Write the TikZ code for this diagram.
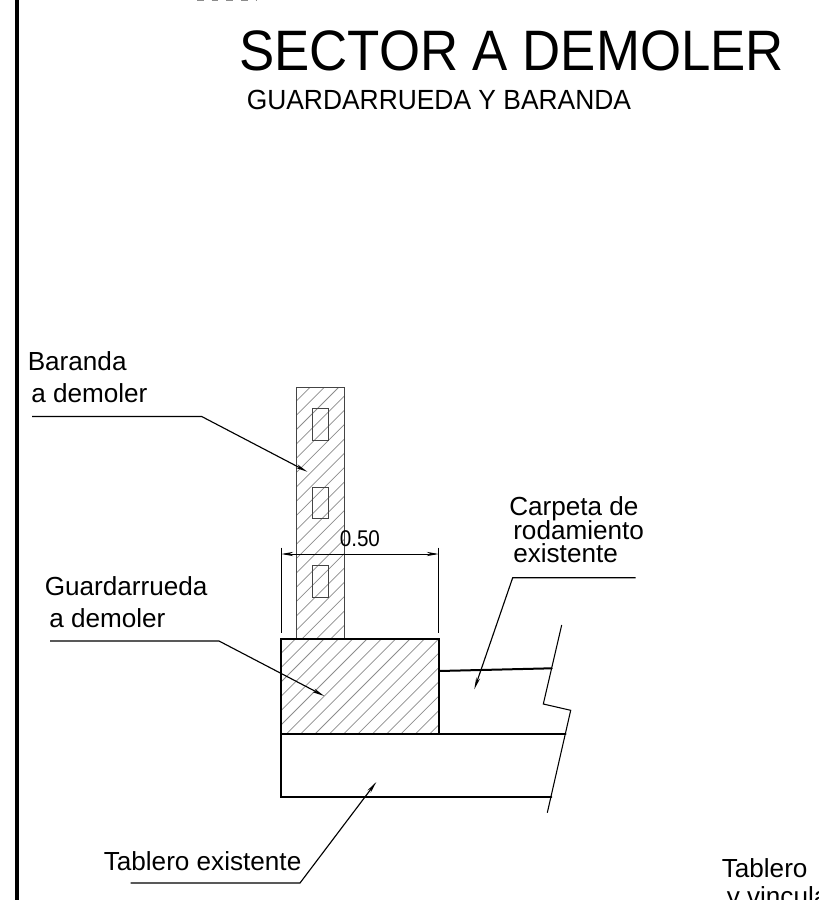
\documentclass[tikz,border=0pt]{standalone}
\usepackage{fontspec}
\usepackage{graphicx}
\setmainfont{Liberation Sans}
\usetikzlibrary{arrows.meta, calc}
\definecolor{hatchgray}{HTML}{8C8C8C}
\definecolor{railgray}{HTML}{444444}
\tikzset{
  lbl/.style={anchor=base west, inner sep=0pt, font=\fontsize{19.6}{22}\selectfont},
  dimlbl/.style={anchor=base west, inner sep=0pt, font=\fontsize{15.5}{18}\selectfont},
  hatchline/.style={hatchgray, line width=0.55pt},
  solid edge/.style={black, line width=1.5pt, line cap=round},
  thin edge/.style={black, line width=0.8pt},
  window edge/.style={railgray, line width=0.7pt},
  leader/.style={black, line width=0.85pt, -{Stealth[length=9pt, width=3pt]}},
  dimline/.style={black, line width=0.7pt, {Stealth[length=9pt, width=3.2pt]}-{Stealth[length=9pt, width=3.2pt]}}
}
\begin{document}
\begin{tikzpicture}[x=0.75pt, y=-0.75pt]
  \useasboundingbox (0,0) rectangle (818,900);
  \clip (0,0) rectangle (818,900);

  % frame
  \fill[black] (15,0) rectangle (19,900);
  \draw[hatchgray, line width=0.8pt, dash pattern=on 5pt off 6pt] (197,0.3) -- (256,0.3);

  % titles
  \node[lbl, font=\fontsize{39.6}{44}\selectfont] (title) at (239,70.5) {\scalebox{1}[1.08]{SECTOR A DEMOLER}};
  \node[lbl, font=\fontsize{19.8}{22}\selectfont] (subtitle) at (246.5,109.5) {\scalebox{1}[1.05]{GUARDARRUEDA Y BARANDA}};

  % baranda
  \begin{scope}
    \clip (296.7,387.3) rectangle (344.3,638.7);
    \foreach \k in {0,...,30} {
      \draw[hatchline] ({640+\k*14.33-800},800) -- ++(600,-600);
    }
  \end{scope}
  \draw[railgray, line width=0.8pt] (296.7,638.7) |- (344.3,387.3) -- (344.3,638.7);
  \draw[window edge] (312.7,408.3) rectangle (328.7,440);
  \draw[window edge] (312.7,487) rectangle (328.7,518.7);
  \draw[window edge] (312.7,565.7) rectangle (328.7,597.7);

  % guardarrueda
  \begin{scope}
    \clip (281.3,639.3) rectangle (439,734);
    \foreach \k in {0,...,22} {
      \draw[hatchline] ({920+\k*14.33-800},800) -- ++(600,-600);
    }
  \end{scope}
  \draw[solid edge] (281.3,639.3) rectangle (439,734);

  % tablero y carpeta
  \draw[solid edge] (439,734) -- (565.7,734);
  \draw[solid edge] (281.3,734) |- (551.3,797);
  \draw[solid edge] (439,671) -- (551.7,668.3);
  \draw[thin edge] (561.7,625) -- (543.3,704) -- (570.7,710.3) -- (547.3,812.7);

  % cota
  \coordinate (dimA) at (281.3,554);
  \coordinate (dimB) at (438.7,554);
  \draw[thin edge] (281.3,547.7) -- (281.3,633);
  \draw[thin edge] (438.7,547.7) -- (438.7,633);
  \draw[dimline] (dimA) -- (dimB);
  \node[dimlbl] (dimval) at (339.5,546) {\scalebox{1}[1.1]{0.50}};

  % textos
  \node[lbl] (baranda1) at (27.5,370) {Baranda};
  \node[lbl] (baranda2) at (31,402.5) {a demoler};
  \node[lbl] (guarda1) at (44.5,595) {Guardarrueda};
  \node[lbl] (guarda2) at (49,627.5) {a demoler};
  \node[lbl] (carpeta1) at (509,515) {Carpeta de};
  \node[lbl] (carpeta2) at (513,539.5) {rodamiento};
  \node[lbl] (carpeta3) at (513,562.5) {existente};
  \node[lbl] (tablero) at (103.5,870) {Tablero existente};
  \node[lbl] (tablero2) at (721.5,877.5) {Tablero};
  \node[lbl] (vincula) at (726.5,905.5) {y vincula};

  % flechas
  \coordinate (barandaA) at (32,416.5);
  \coordinate (barandaB) at (201.7,416.5);
  \coordinate (barandaC) at (307.3,471.7);
  \coordinate (guardaA) at (50,641);
  \coordinate (guardaB) at (219,641);
  \coordinate (guardaC) at (324.3,696);
  \coordinate (carpetaA) at (635.7,577.7);
  \coordinate (carpetaB) at (512.7,577.7);
  \coordinate (carpetaC) at (474.3,689.3);
  \coordinate (tableroA) at (130.7,883);
  \coordinate (tableroB) at (300,883);
  \coordinate (tableroC) at (376.3,782);
  \draw[leader] (barandaA) -- (barandaB) -- (barandaC);
  \draw[leader] (guardaA) -- (guardaB) -- (guardaC);
  \draw[leader] (carpetaA) -- (carpetaB) -- (carpetaC);
  \draw[leader] (tableroA) -- (tableroB) -- (tableroC);
\end{tikzpicture}
\end{document}
